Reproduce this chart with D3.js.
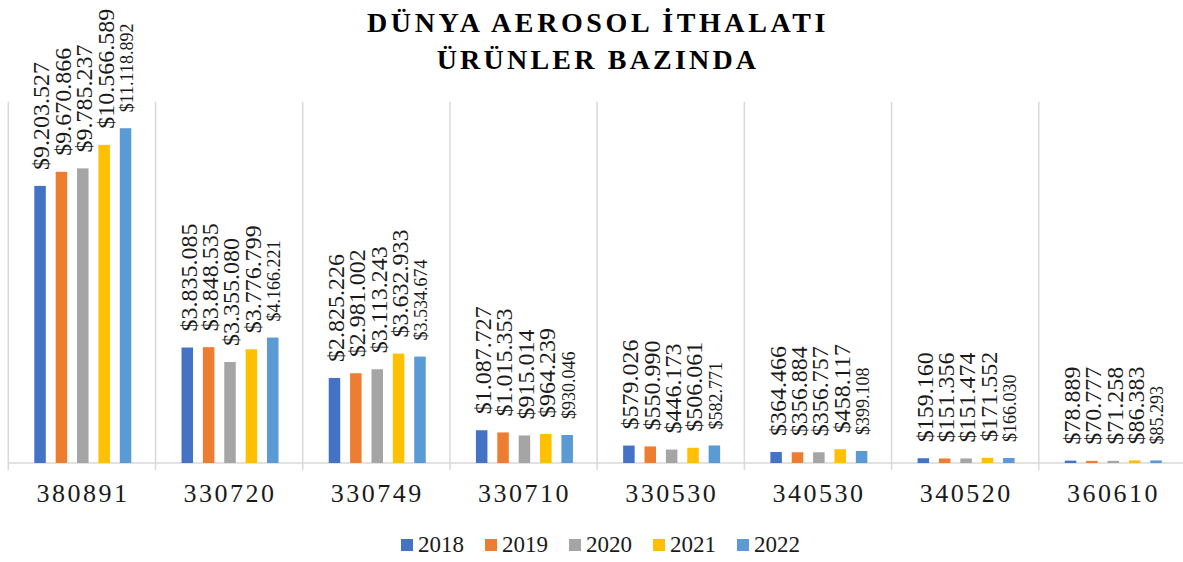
<!DOCTYPE html>
<html lang="tr">
<head>
<meta charset="UTF-8" />
<title>Dünya Aerosol İthalatı</title>
<script src="https://cdn.jsdelivr.net/npm/d3@7/dist/d3.min.js"></script>
<style>
  body { margin: 0; background: #fff; }
  svg { display: block; }
  svg text { font-family: "Liberation Serif", "Times New Roman", serif; }
</style>
</head>
<body>
<div id="chart"></div>
<script>
var categories = ["380891", "330720", "330749", "330710", "330530", "340530", "340520", "360610"];
var years = ["2018", "2019", "2020", "2021", "2022"];
var v2018 = [9203527, 3835085, 2825226, 1087727, 579026, 364466, 159160, 78889];
var v2019 = [9670866, 3848535, 2981002, 1015353, 550990, 356884, 151356, 70777];
var v2020 = [9785237, 3355080, 3113243, 915014, 446173, 356757, 151474, 71258];
var v2021 = [10566589, 3776799, 3632933, 964239, 506061, 458117, 171552, 86383];
var v2022 = [11118892, 4166221, 3534674, 930046, 582771, 399108, 166030, 85293];
var colors = ["#4472C4", "#ED7D31", "#A5A5A5", "#FFC000", "#5B9BD5"];

var series = [v2018, v2019, v2020, v2021, v2022];
var w = 1183, h = 562;
var margin = { top: 101.7, left: 8.3, right: -3, bottom: 99 };

var svg = d3.select("#chart").append("svg")
  .attr("width", w)
  .attr("height", h);

var x0 = d3.scaleBand()
  .domain(categories)
  .range([margin.left, w - margin.right])
  .paddingInner(0).paddingOuter(0);

var x1 = d3.scaleBand()
  .domain(years)
  .range([26, 123])
  .paddingInner(0.462).paddingOuter(0);

var y = d3.scaleLinear()
  .domain([0, 12000000])
  .range([h - margin.bottom, margin.top]);

var fmt = function(v) {
  return "$" + d3.format(",")(v).replace(/,/g, ".");
};

// vertical separators
var grid = svg.append("g");
categories.forEach(function(c, i) {
  var gx = x0(c);
  grid.append("line")
    .attr("x1", gx).attr("x2", gx)
    .attr("y1", margin.top).attr("y2", y(0) + 7)
    .attr("stroke", "#d9d9d9").attr("stroke-width", 1.5);
});
grid.append("line")
  .attr("x1", margin.left).attr("x2", w)
  .attr("y1", y(0)).attr("y2", y(0))
  .attr("stroke", "#d9d9d9").attr("stroke-width", 1.5);

// bars and labels
var groups = svg.selectAll("g.cat")
  .data(categories)
  .enter()
  .append("g")
  .attr("class", "cat")
  .attr("transform", function(d) { return "translate(" + x0(d) + ",0)"; });

years.forEach(function(yr, s) {
  groups.append("rect")
    .attr("x", x1(yr))
    .attr("width", x1.bandwidth())
    .attr("y", function(d, i) { return y(series[s][i]); })
    .attr("height", function(d, i) { return y(0) - y(series[s][i]); })
    .attr("fill", colors[s]);

  groups.append("text")
    .attr("transform", function(d, i) {
      var tx = x1(yr) + x1.bandwidth() / 2 + 1;
      var ty = y(series[s][i]) - 16;
      return "translate(" + tx + "," + ty + ") rotate(-90)";
    })
    .attr("dy", "0.35em")
    .attr("font-size", s == 4 ? 18 : 24)
    .attr("fill", "#1a1a1a")
    .text(function(d, i) { return fmt(series[s][i]); });
});

// category labels
svg.selectAll("text.cat")
  .data(categories)
  .enter()
  .append("text")
  .attr("class", "cat")
  .attr("x", function(d) { return x0(d) + x0.bandwidth() / 2 + 1; })
  .attr("y", 502)
  .attr("text-anchor", "middle")
  .attr("font-size", 26)
  .attr("letter-spacing", 2.5)
  .attr("fill", "#1a1a1a")
  .text(function(d) { return d; });

// title
var title = svg.append("text")
  .attr("text-anchor", "middle")
  .attr("font-size", 28)
  .attr("font-weight", "bold")
  .attr("letter-spacing", 3.6)
  .attr("fill", "#000");
title.append("tspan").attr("x", 598).attr("y", 32).text("DÜNYA AEROSOL İTHALATI");
title.append("tspan").attr("x", 598).attr("y", 69).attr("letter-spacing", 3.2).text("ÜRÜNLER BAZINDA");

// legend
var legend = svg.selectAll("g.legend")
  .data(years)
  .enter()
  .append("g")
  .attr("class", "legend")
  .attr("transform", function(d, i) { return "translate(" + (401 + i * 84) + ",539)"; });

legend.append("rect")
  .attr("width", 12).attr("height", 12)
  .attr("fill", function(d, i) { return colors[i]; });

legend.append("text")
  .attr("x", 17)
  .attr("y", 13)
  .attr("font-size", 23)
  .attr("fill", "#1a1a1a")
  .text(function(d) { return d; });
</script>
</body>
</html>
